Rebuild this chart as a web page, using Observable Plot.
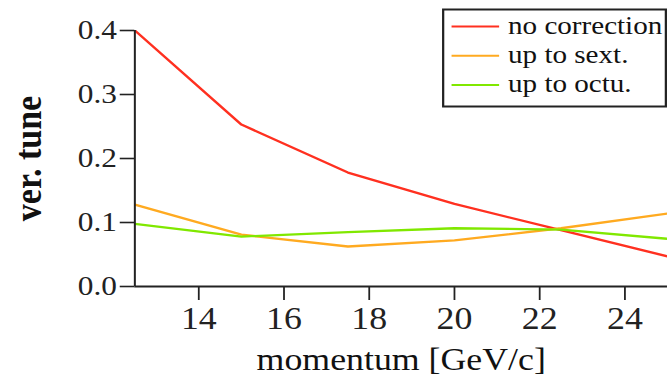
<!DOCTYPE html>
<html><head><meta charset="utf-8">
<script src="https://cdn.jsdelivr.net/npm/d3@7"></script>
<script src="https://cdn.jsdelivr.net/npm/@observablehq/plot@0.6"></script>
<style>
html,body{margin:0;padding:0;background:#fff;overflow:hidden}
#chart{width:667px;height:377px;overflow:hidden}
#chart svg{transform:scaleX(1.1191);transform-origin:0 0;display:block}
#chart svg text{font-family:"Liberation Serif","Times New Roman",serif}
</style></head><body><div id="chart"></div>
<script>
const momentum = [12.5, 15, 17.5, 20, 22.5, 25];
const noCorrection = [0.400, 0.253, 0.178, 0.129, 0.088, 0.047];
const upToSext = [0.128, 0.081, 0.0625, 0.072, 0.091, 0.114];
const upToOctu = [0.098, 0.078, 0.085, 0.091, 0.089, 0.0745];
const seriesNames = ["no correction", "up to sext.", "up to octu."];
const seriesColors = ["#ff3020", "#ffaa20", "#80e800"];
const xTicks = [14, 16, 18, 20, 22, 24];
const yTicks = [0, 0.1, 0.2, 0.3, 0.4];
const xDomain = [12.5, 25];
const yDomain = [0, 0.4];
const xLabel = "momentum [GeV/c]";
const yLabel = "ver. tune";

const rows = [];
[noCorrection, upToSext, upToOctu].forEach((vals, i) =>
  vals.forEach((v, j) => rows.push({series: seriesNames[i], x: momentum[j], y: v})));

const FONT = "Liberation Serif, Times New Roman, serif";

function legend(index, scales, values, dims) {
  const g = d3.create("svg:g").attr("font-family", FONT).attr("font-size", 26)
    .attr("fill", "#111").attr("text-anchor", "start");
  const right = dims.width - dims.marginRight - 1;
  const left = right - 199;
  const top = 9.5, h = 97;
  g.append("rect").attr("x", left).attr("y", top).attr("width", right - left).attr("height", h)
    .attr("fill", "white").attr("stroke", "#222").attr("stroke-width", 2);
  seriesNames.forEach((name, i) => {
    const yy = top + 17 + i * 29.2;
    g.append("line").attr("x1", left + 7.5).attr("x2", left + 50).attr("y1", yy).attr("y2", yy)
      .attr("stroke", scales.color(name)).attr("stroke-width", 2);
    g.append("text").attr("x", left + 58).attr("y", yy + 7.6).attr("text-anchor", "start")
      .attr("font-family", FONT).attr("font-size", 26).text(name);
  });
  return g.node();
}

const chart = Plot.plot({
  width: 596,
  height: 377,
  marginLeft: 120,
  marginRight: 0,
  marginTop: 30,
  marginBottom: 91,
  style: {fontFamily: FONT, background: "white", color: "#222"},
  x: {domain: xDomain},
  y: {domain: yDomain},
  color: {domain: seriesNames, range: seriesColors},
  marks: [
    Plot.line(rows, {x: "x", y: "y", z: "series", stroke: "series", strokeWidth: 2.3, clip: true}),
    Plot.axisX({ticks: xTicks, tickSize: 14, tickPadding: 6, fontSize: 32, strokeWidth: 1.6, label: null, tickFormat: d => String(d)}),
    Plot.axisY({ticks: yTicks, tickSize: 13, tickPadding: 3, fontSize: 28, strokeWidth: 1.6, label: null, tickFormat: d3.format(".1f")}),
    Plot.ruleY([yDomain[0]], {stroke: "#222", strokeWidth: 1.8}),
    Plot.ruleX([xDomain[0]], {y1: yDomain[0], y2: yDomain[1], stroke: "#222", strokeWidth: 1.8}),
    Plot.text([xLabel], {frameAnchor: "bottom", text: d => d, fontSize: 32, dy: 83, fill: "#111"}),
    Plot.text([yLabel], {frameAnchor: "left", text: d => d, fontSize: 34, fontWeight: "bold", rotate: -90, textAnchor: "middle", dx: -95, fill: "#111"}),
    legend
  ]
});
document.getElementById("chart").append(chart);
</script></body></html>
